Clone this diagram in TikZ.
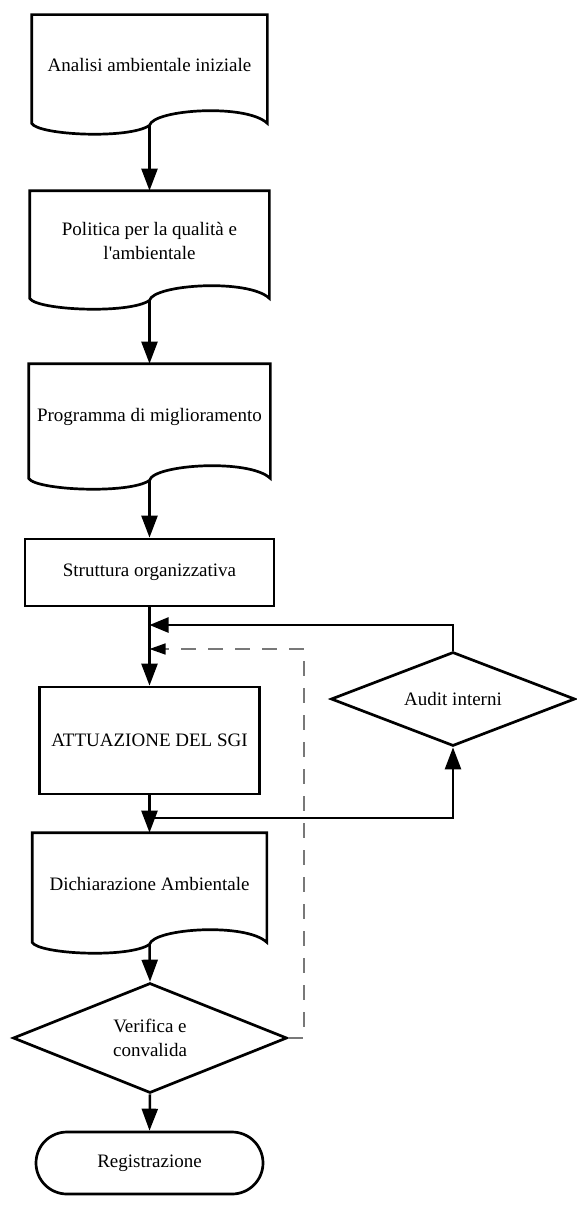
\documentclass[tikz,border=0pt]{standalone}
\usepackage{fontspec}
\newfontfamily\lib{Liberation Serif}
\usetikzlibrary{arrows.meta,calc,shapes.geometric,shapes.misc}
\tikzset{
  base/.style={font=\lib\fontsize{19}{24}\selectfont, align=center, inner sep=0pt, line width=2.7pt},
  boxnode/.style={base, draw, rectangle},
  docnode/.style={base, rectangle},
  decision/.style={base, draw, diamond, shape aspect=2.5},
  terminal/.style={base, draw, rounded rectangle},
  shp/.style={line width=2.7pt, line join=miter},
  arr/.style={line width=2.5pt, -{Triangle[length=22pt,width=16pt]}},
  farr/.style={line width=2.5pt, -{Triangle[length=19pt,width=15pt]}},
  darr/.style={line width=1.5pt, draw={rgb,255:red,120;green,120;blue,120}, dash pattern=on 15pt off 12pt,
     -{Triangle[length=16pt,width=11pt,color=black]}},
}
\newcommand\docoutline[1]{%
  \draw[shp] (#1.north west) -- ($(#1.south west)+(0,8)$)
    .. controls ($(#1.south west)+(7,20)$) and ($(#1.south)+(-20,24)$) .. ($(#1.south)+(0,10)$) coordinate (#1-j)
    .. controls ($(#1.south)+(4,-6)$) and ($(#1.south east)+(-21,-12)$) .. ($(#1.south east)+(0,8)$)
    -- (#1.north east) -- cycle;}
\begin{document}
\begin{tikzpicture}[x=1pt,y=-1pt]
\useasboundingbox (0,0) rectangle (577,1207);

\node[docnode, minimum width=233pt, minimum height=98pt] (d1) at (149.5,65) {Analisi ambientale iniziale};
\docoutline{d1}
\node[docnode, minimum width=237pt, minimum height=97pt] (d2) at (149.5,240.5) {Politica per la qualità e\\l'ambientale};
\docoutline{d2}
\node[docnode, minimum width=239pt, minimum height=104pt] (d3) at (149.5,417) {Programma di miglioramento};
\docoutline{d3}
\node[boxnode, minimum width=249pt, minimum height=67pt] (s) at (149.5,572.5) {Struttura organizzativa};
\node[boxnode, minimum width=220pt, minimum height=107pt] (a) at (149.5,740.5) {ATTUAZIONE DEL SGI};
\node[docnode, minimum width=232pt, minimum height=99pt] (dich) at (149.5,883.5) {Dichiarazione Ambientale};
\docoutline{dich}
\node[decision, minimum width=274pt, minimum height=110pt] (v) at (150,1038) {Verifica e\\convalida};
\node[terminal, minimum width=227pt, minimum height=62pt] (r) at (149.5,1163) {Registrazione};
\node[decision, minimum width=244pt, minimum height=94pt] (audit) at (453,699) {Audit interni};

\coordinate (fb1) at (149.5,625);
\coordinate (fb2) at (149.5,649);
\coordinate (dc) at (304,649);
\coordinate (br) at (149.5,818);

\draw[arr] (d1-j) -- (d2.north);
\draw[arr] (d2-j) -- (d3.north);
\draw[arr] (d3-j) -- (s.north);
\draw[arr] (s.south) -- (a.north);
\draw[arr] (a.south) -- (dich.north);
\draw[arr] (br) -| (audit.south);
\draw[farr] (audit.north) |- (fb1);
\draw[darr] (v.east) -| (dc) -- (fb2);
\draw[arr] (dich-j) -- (v.north);
\draw[arr] (v.south) -- (r.north);
\end{tikzpicture}
\end{document}
